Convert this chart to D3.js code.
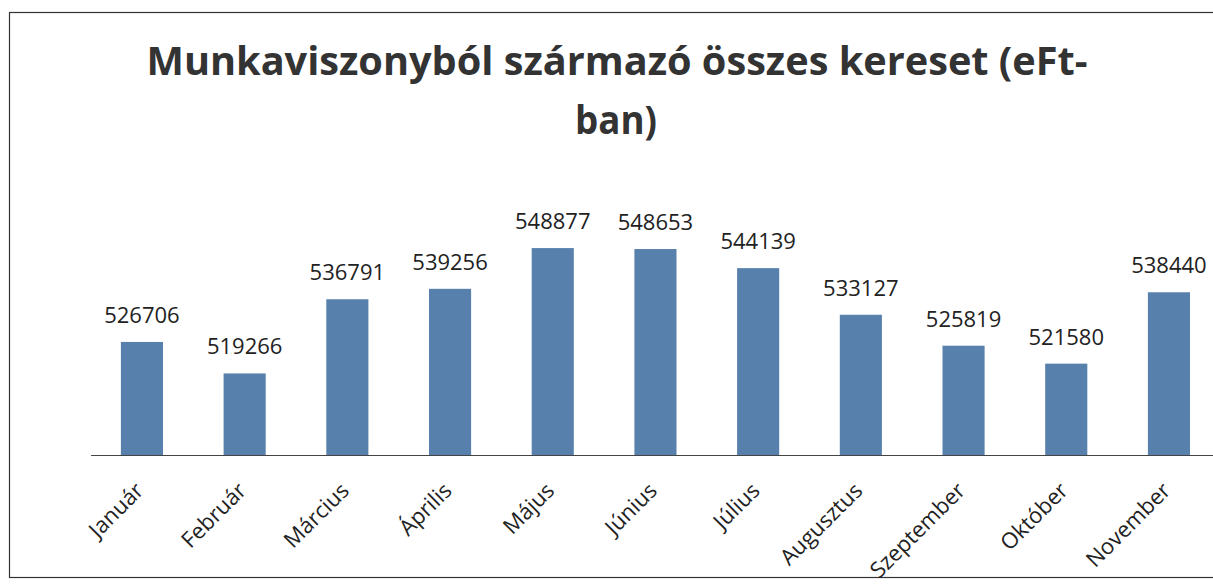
<!DOCTYPE html>
<html>
<head>
<meta charset="utf-8">
<script src="https://cdn.jsdelivr.net/npm/d3@7"></script>
<style>
  body { margin: 0; background: #fff; }
  svg { display: block; }
</style>
</head>
<body>
<div id="chart"></div>
<script>
const width = 1213;
const height = 587;

// adatok
const months = ["Január", "Február", "Március", "Április", "Május", "Június", "Július", "Augusztus", "Szeptember", "Október", "November"];
const earnings = [526706, 519266, 536791, 539256, 548877, 548653, 544139, 533127, 525819, 521580, 538440];
const titleLines = ["Munkaviszonyból származó összes kereset (eFt-", "ban)"];

const data = months.map((m, i) => ({ month: m, value: earnings[i] }));

const svg = d3.select("#chart").append("svg")
  .attr("width", width).attr("height", height);

// keret
svg.append("rect")
  .attr("x", 9.5).attr("y", 12.5)
  .attr("width", width).attr("height", 565)
  .attr("fill", "none").attr("stroke", "#333").attr("stroke-width", 1.2);

// cím
svg.append("text")
  .attr("x", 617).attr("y", 75)
  .attr("text-anchor", "middle")
  .attr("font-family", "Open Sans").attr("font-weight", "bold")
  .attr("font-size", 39).attr("fill", "#333")
  .attr("textLength", 941).attr("lengthAdjust", "spacingAndGlyphs")
  .text(titleLines[0]);
svg.append("text")
  .attr("x", 616).attr("y", 134)
  .attr("text-anchor", "middle")
  .attr("font-family", "Open Sans").attr("font-weight", "bold")
  .attr("font-size", 39).attr("fill", "#333")
  .attr("textLength", 82).attr("lengthAdjust", "spacingAndGlyphs")
  .text(titleLines[1]);

const x = d3.scaleBand()
  .domain(months)
  .range([90.6, 90.6 + 102.7 * months.length])
  .paddingInner(0.59).paddingOuter(0.295);

const y = d3.scaleLinear()
  .domain([500000, 560000])
  .range([455, 201]);

// oszlopok
svg.selectAll(".bar")
  .data(data)
  .join("rect")
  .attr("class", "bar")
  .attr("x", d => x(d.month))
  .attr("y", d => y(d.value))
  .attr("width", x.bandwidth())
  .attr("height", d => y(500000) - y(d.value))
  .attr("fill", "#5780ac");

// x tengely
const xAxis = svg.append("g")
  .attr("transform", `translate(0, ${y(500000)})`)
  .call(d3.axisBottom(x).tickSize(0).tickPadding(0));
xAxis.select(".domain").attr("stroke", "#444").attr("stroke-width", 1.2);
xAxis.selectAll("text")
  .attr("font-family", "Open Sans").attr("font-size", 22).attr("fill", "#222")
  .attr("text-anchor", "end")
  .attr("dy", null)
  .attr("transform", "translate(3, 37) rotate(-45)");

// értékcímkék
svg.selectAll(".label")
  .data(data)
  .join("text")
  .attr("class", "label")
  .attr("x", d => x(d.month) + x.bandwidth() / 2)
  .attr("y", d => y(d.value) - 19)
  .attr("text-anchor", "middle")
  .attr("font-family", "Open Sans").attr("font-size", 22).attr("fill", "#222")
  .text(d => d.value);
</script>
</body>
</html>
